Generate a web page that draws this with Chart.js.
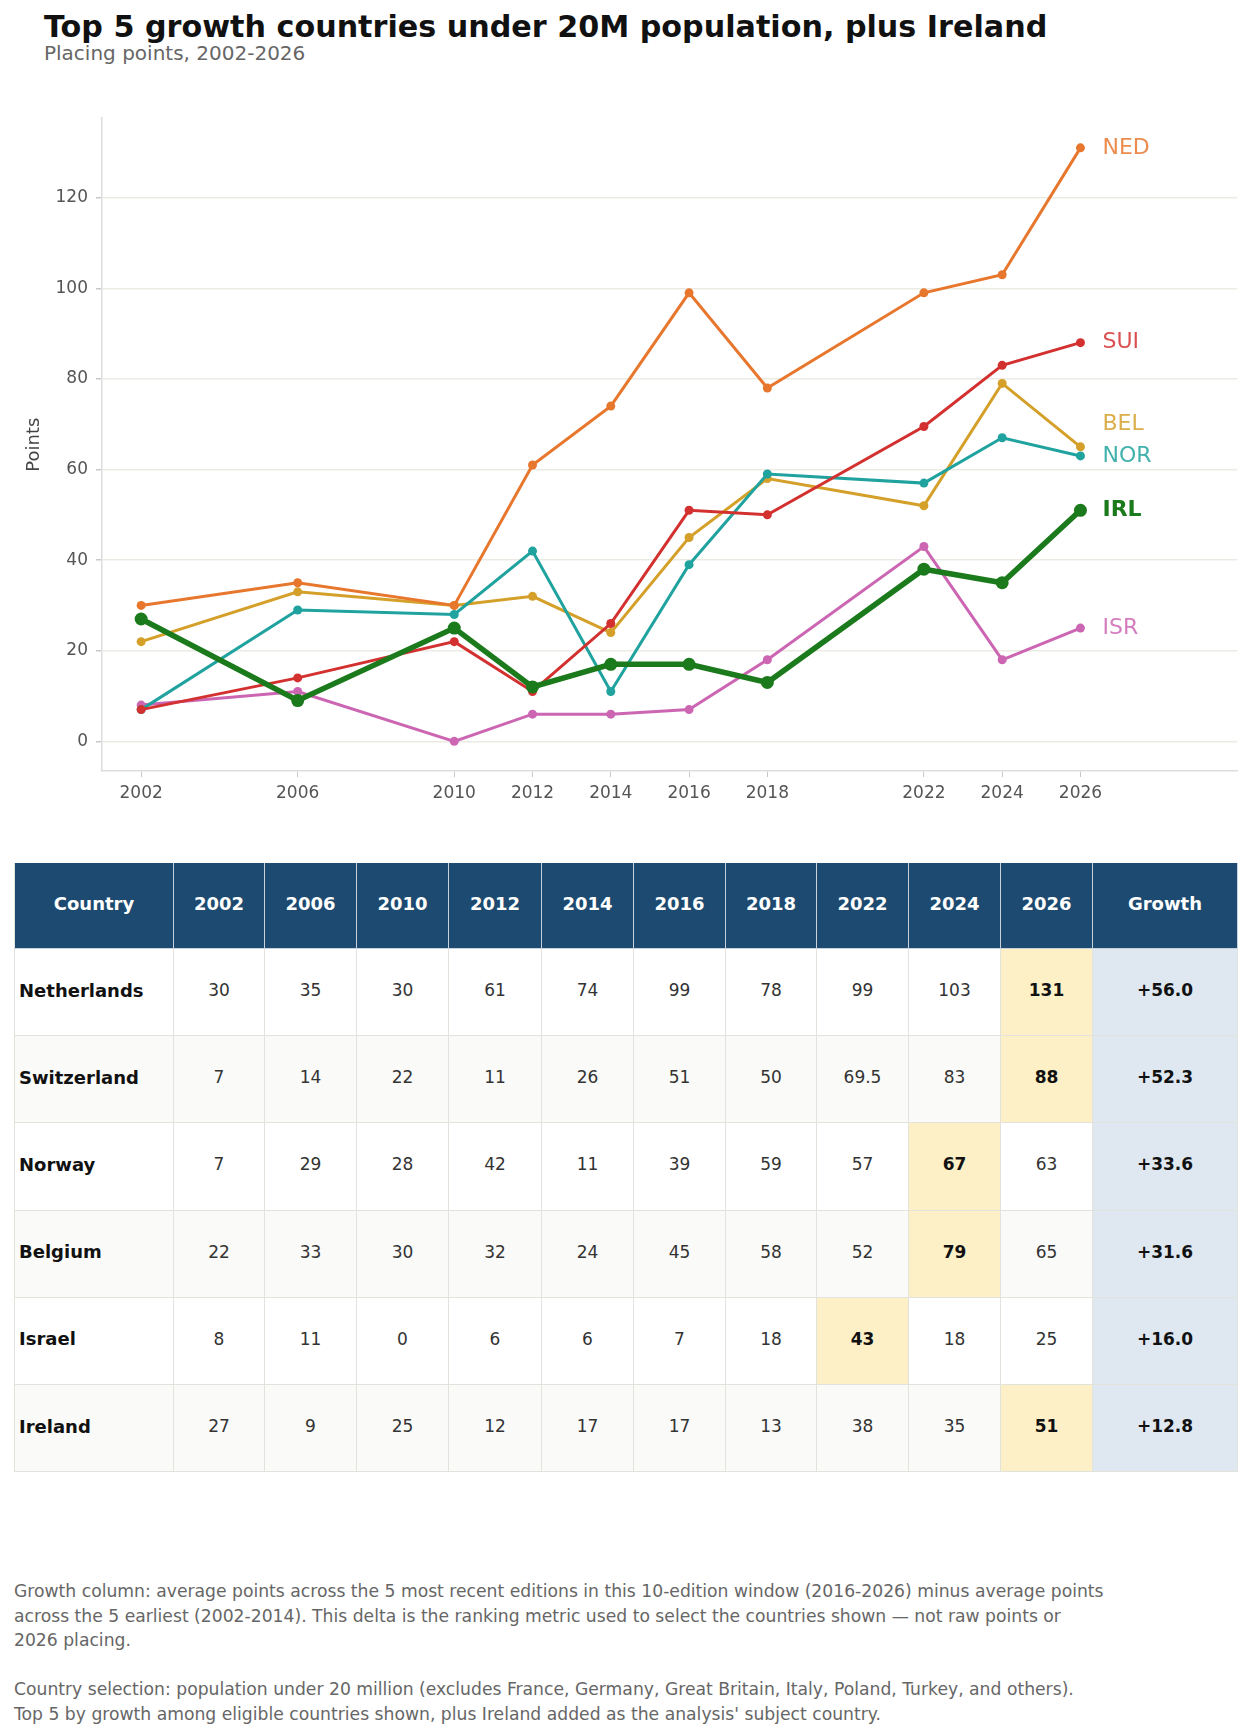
<!DOCTYPE html>
<html>
<head>
<meta charset="utf-8">
<script src="https://cdn.jsdelivr.net/npm/chart.js@4.4.1/dist/chart.umd.min.js"></script>
<style>
  body { margin: 0; background: #fff; font-family: "DejaVu Sans", sans-serif; }
  #page { position: relative; width: 1250px; height: 1731px; overflow: hidden; }
  #title { position: absolute; left: 44px; top: 12px; font-size: 30.2px; font-weight: bold; line-height: 1; color: #111; white-space: nowrap; }
  #subtitle { position: absolute; left: 44px; top: 43px; font-size: 20px; line-height: 1; color: #666; white-space: nowrap; }
  #chartBox { position: absolute; left: 0; top: 100px; width: 1250px; height: 720px; }
  #tbl { position: absolute; left: 14px; top: 863px; display: grid;
         grid-template-columns: 160px 91px 92px 92px 93px 92px 92px 91px 92px 92px 92px 145px;
         grid-template-rows: 86px repeat(6, 87.2px); }
  .c { box-sizing: border-box; display: flex; align-items: center; justify-content: center; padding-bottom: 4px;
       border-right: 1.5px solid #e3e3de; border-bottom: 1.5px solid #e3e3de; font-size: 17px; color: #333; }
  .h { background: #1d4a70; color: #fff; font-weight: bold; font-size: 18px; border-color: #c9d2da; }
  .name { justify-content: flex-start; padding-left: 4px; font-weight: bold; color: #111; font-size: 18px; }
  .alt { background: #fafaf8; }
  .max { background: #fdf0c7; font-weight: bold; color: #111; }
  .grow { background: #dfe8f1; font-weight: bold; color: #111; }
  .first { border-left: 1.5px solid #e3e3de; }
  #notes { position: absolute; left: 14px; top: 1579px; font-size: 17.2px; line-height: 24.5px; color: #666; white-space: nowrap; }
</style>
</head>
<body>
<div id="page">
  <div id="title">Top 5 growth countries under 20M population, plus Ireland</div>
  <div id="subtitle">Placing points, 2002-2026</div>
  <div id="chartBox"><canvas id="chart" width="1250" height="720"></canvas></div>
  <div id="tbl"></div>
  <div id="notes">
    Growth column: average points across the 5 most recent editions in this 10-edition window (2016-2026) minus average points<br>
    across the 5 earliest (2002-2014). This delta is the ranking metric used to select the countries shown — not raw points or<br>
    2026 placing.<br>
    <br>
    Country selection: population under 20 million (excludes France, Germany, Great Britain, Italy, Poland, Turkey, and others).<br>
    Top 5 by growth among eligible countries shown, plus Ireland added as the analysis' subject country.
  </div>
</div>
<script>
// data
const years = [2002, 2006, 2010, 2012, 2014, 2016, 2018, 2022, 2024, 2026];
const countries = ['Netherlands', 'Switzerland', 'Norway', 'Belgium', 'Israel', 'Ireland'];
const codes = ['NED', 'SUI', 'NOR', 'BEL', 'ISR', 'IRL'];
const netherlands = [30, 35, 30, 61, 74, 99, 78, 99, 103, 131];
const switzerland = [7, 14, 22, 11, 26, 51, 50, 69.5, 83, 88];
const norway = [7, 29, 28, 42, 11, 39, 59, 57, 67, 63];
const belgium = [22, 33, 30, 32, 24, 45, 58, 52, 79, 65];
const israel = [8, 11, 0, 6, 6, 7, 18, 43, 18, 25];
const ireland = [27, 9, 25, 12, 17, 17, 13, 38, 35, 51];
const growth = ['+56.0', '+52.3', '+33.6', '+31.6', '+16.0', '+12.8'];
const yTicks = [0, 20, 40, 60, 80, 100, 120];

const series = [netherlands, switzerland, norway, belgium, israel, ireland];
const colors = ['#e8772e', '#d33030', '#20a39f', '#d4a02a', '#cc66b3', '#1b7a1b'];

Chart.defaults.font.family = '"DejaVu Sans", sans-serif';

let datasets = series.map(function (vals, i) {
    let irl = codes[i] == 'IRL';
    return {
        label: codes[i],
        data: vals.map((v, k) => ({ x: years[k], y: v })),
        borderColor: colors[i],
        backgroundColor: colors[i],
        borderWidth: irl ? 5.5 : 3,
        pointRadius: irl ? 6.5 : 4.5,
        pointBorderWidth: 0,
        pointHoverRadius: irl ? 6.5 : 4.5,
        order: irl ? 0 : 1,
        tension: 0
    };
});

// end labels, nudged apart where they would overlap
const endLabels = {
    id: 'endLabels',
    afterDatasetsDraw(chart) {
        const ctx = chart.ctx;
        const xs = chart.scales.x, ys = chart.scales.y;
        let items = series.map((vals, i) => ({ i: i, v: vals[vals.length - 1] }));
        items.sort((a, b) => a.v - b.v);
        for (let k = 1; k < items.length; k++) {
            if (items[k].v < items[k - 1].v + 7) items[k].v = items[k - 1].v + 7;
        }
        ctx.save();
        ctx.textBaseline = 'middle';
        items.forEach(function (it) {
            let irl = codes[it.i] == 'IRL';
            ctx.font = (irl ? 'bold ' : '') + '22px "DejaVu Sans"';
            ctx.fillStyle = colors[it.i];
            ctx.globalAlpha = irl ? 1 : 0.85;
            ctx.fillText(codes[it.i], xs.getPixelForValue(years[years.length - 1]) + 22, ys.getPixelForValue(it.v));
        });
        ctx.restore();
    }
};

new Chart(document.getElementById('chart'), {
    type: 'line',
    data: { datasets: datasets },
    plugins: [endLabels],
    options: {
        responsive: false,
        animation: false,
        layout: { padding: { top: 16, right: 13, left: 0, bottom: 0 } },
        plugins: { legend: { display: false }, tooltip: { enabled: false } },
        scales: {
            x: {
                type: 'linear',
                min: 2001,
                max: 2030,
                afterBuildTicks: s => { s.ticks = years.map(v => ({ value: v })); },
                afterFit: s => { s.height = 49; },
                grid: { drawOnChartArea: false, tickLength: 6, tickColor: '#c8c8c8' },
                border: { color: '#dddddd', width: 1.5 },
                ticks: { color: '#555', font: { size: 17 }, padding: 6, maxRotation: 0, callback: v => String(v) }
            },
            y: {
                min: -6.55,
                max: 137.55,
                afterBuildTicks: s => { s.ticks = yTicks.map(v => ({ value: v })); },
                afterFit: s => { s.width = 102; },
                grid: { color: '#ebebe3', lineWidth: 1.5, tickLength: 6, tickColor: '#c8c8c8' },
                border: { color: '#dddddd', width: 1.5 },
                ticks: { color: '#555', font: { size: 17 }, padding: 8 },
                title: { display: true, text: 'Points', color: '#444', font: { size: 18 }, padding: { top: 24, bottom: 0 } }
            }
        }
    }
});

// table
const tbl = document.getElementById('tbl');
function cell(text, cls) {
    let d = document.createElement('div');
    d.className = 'c ' + cls;
    d.textContent = text;
    tbl.appendChild(d);
}
cell('Country', 'h first');
years.forEach(y => cell(String(y), 'h'));
cell('Growth', 'h');
series.forEach(function (vals, r) {
    let alt = r % 2 == 1 ? ' alt' : '';
    let mx = Math.max.apply(null, vals);
    cell(countries[r], 'name first' + alt);
    vals.forEach(v => cell(String(v), v == mx ? 'max' : alt));
    cell(growth[r], 'grow');
});
</script>
</body>
</html>
